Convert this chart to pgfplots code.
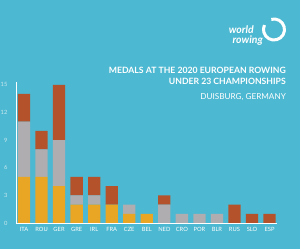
\documentclass[border=0pt]{standalone}
\usepackage{pgfplots}
\pgfplotsset{compat=1.18}
\usepackage{fontspec}
\setmainfont{Lato}
\definecolor{bg}{HTML}{4DB8D1}
\definecolor{gold}{HTML}{E9A624}
\definecolor{silver}{HTML}{AFADAF}
\definecolor{bronze}{HTML}{B4532B}
\begin{document}
\begin{tikzpicture}[x=1bp,y=1bp]
\fill[bg] (0,0) rectangle (300,249);
\useasboundingbox (0,0) rectangle (300,249);
% logo
\draw[white, line width=3bp] (274,219.5) ++(105:10.5) arc[start angle=105, end angle=-205, radius=10.5];
\node[white, anchor=base east, inner sep=0, font=\bfseries\itshape\fontsize{10.5}{11}\selectfont] at (254,216) {world};
\node[white, anchor=base east, inner sep=0, font=\bfseries\itshape\fontsize{10.5}{11}\selectfont] at (263,206) {rowing};
% titles
\node[white, anchor=east, inner sep=0, font=\bfseries\fontsize{8.7}{10}\selectfont] at (286,179) {MEDALS AT THE 2020 EUROPEAN ROWING};
\node[white, anchor=east, inner sep=0, font=\bfseries\fontsize{8.7}{10}\selectfont] at (286,168) {UNDER 23 CHAMPIONSHIPS};
\node[white, anchor=east, inner sep=0, font=\fontsize{8.2}{9}\selectfont] at (286,152) {DUISBURG, GERMANY};
\begin{axis}[
  at={(24bp,26bp)}, anchor=origin,
  scale only axis, width=261bp, height=141bp,
  xmin=-0.46, xmax=14.42, ymin=0, ymax=15.3,
  axis x line*=bottom, axis y line*=left,
  axis line style={white, line width=0.7bp},
  ybar stacked, bar width=0.7,
  xtick=data,
  xticklabels={ITA,ROU,GER,GRE,IRL,FRA,CZE,BEL,NED,CRO,POR,BLR,RUS,SLO,ESP},
  ytick={0,3,6,9,12,15},
  major tick length=0pt,
  tick label style={white, font=\fontsize{5.8}{6}\selectfont},
  xticklabel style={yshift=-0.5bp},
  yticklabel style={xshift=-5bp, text opacity=0.7},
  /pgf/number format/assume math mode=true,
]
\addplot[fill=gold, draw=none] coordinates {(0,5)(1,5)(2,4)(3,2)(4,2)(5,2)(6,1)(7,1)(8,0)(9,0)(10,0)(11,0)(12,0)(13,0)(14,0)};
\addplot[fill=silver, draw=none] coordinates {(0,6)(1,3)(2,5)(3,1)(4,1)(5,0)(6,1)(7,0)(8,2)(9,1)(10,1)(11,1)(12,0)(13,0)(14,0)};
\addplot[fill=bronze, draw=none] coordinates {(0,3)(1,2)(2,6)(3,2)(4,2)(5,2)(6,0)(7,0)(8,1)(9,0)(10,0)(11,0)(12,2)(13,1)(14,1)};
\end{axis}
\end{tikzpicture}
\end{document}
